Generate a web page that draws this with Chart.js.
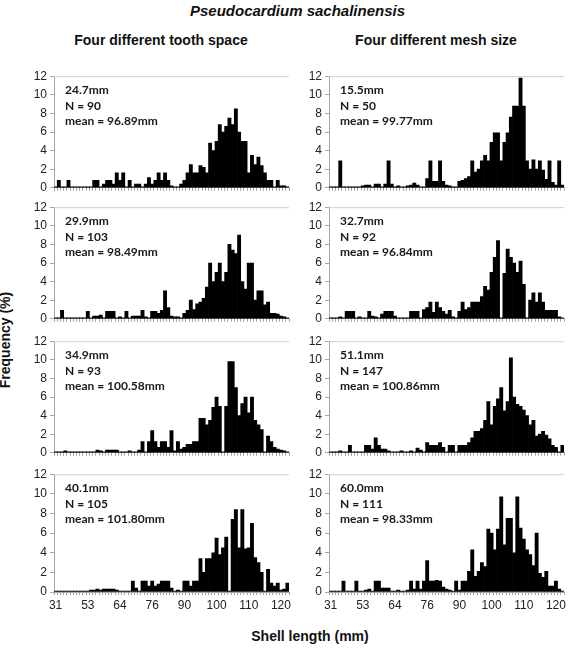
<!DOCTYPE html>
<html>
<head>
<meta charset="utf-8">
<title>Pseudocardium sachalinensis</title>
<script src="https://cdn.jsdelivr.net/npm/chart.js@4"></script>
<style>
body { margin: 0; width: 570px; height: 655px; position: relative; background: #fff; overflow: hidden; font-family: Arial, "Liberation Sans", sans-serif; }
canvas { position: absolute; }
.txt { position: absolute; white-space: nowrap; color: #111; }
#mainTitle { left: 0; width: 595px; top: 2px; text-align: center; font: italic bold 15px Arial, "Liberation Sans", sans-serif; }
.colTitle { top: 32px; width: 260px; text-align: center; font: bold 14px Arial, "Liberation Sans", sans-serif; }
#xTitle { left: 190px; width: 240px; top: 628px; text-align: center; font: bold 14px Arial, "Liberation Sans", sans-serif; }
#yTitle { left: -54px; width: 120px; top: 331px; height: 18px; line-height: 18px; text-align: center; transform: rotate(-90deg); font: bold 14px Arial, "Liberation Sans", sans-serif; }
.note { font: bold 12px Lato, "Open Sans", sans-serif; line-height: 15.5px; color: #1a1a1a; }
</style>
</head>
<body>
<div class="txt" id="mainTitle">Pseudocardium sachalinensis</div>
<div class="txt colTitle" style="left:31px">Four different tooth space</div>
<div class="txt colTitle" style="left:306px">Four different mesh size</div>
<div class="txt" id="yTitle">Frequency (%)</div>
<div class="txt" id="xTitle">Shell length (mm)</div>

<script>
// Shell length categories (only the observed lengths are on the axis)
const lengths = [31, 33, 35, 38, 40, 42, 45, 47, 49, 51,
    53, 54, 55, 56, 57, 58, 59, 60, 61, 62,
    64, 65, 66, 67, 68, 69, 70, 71, 72, 74,
    76, 77, 78, 80, 81, 82, 84, 85, 87, 88,
    90, 91, 92, 93, 94, 95, 96, 97, 98, 99,
    100, 101, 102, 103, 104, 105, 106, 107, 108, 109,
    110, 111, 112, 113, 114, 115, 116, 117, 118, 119,
    120, 121, 122];

// Frequency (%) - four tooth spaces
const tooth247 = [0.1, 0.8, 0.1, 0.1, 0.8, 0.1, 0.1, 0.1, 0.1, 0.1,
    0.1, 0.1, 0.8, 0.8, 0.1, 0.4, 0.8, 0.8, 0.4, 1.6,
    0.8, 1.6, 0.1, 0.8, 0.1, 0.4, 0.4, 0.1, 0.4, 1.1,
    0.4, 0.8, 1.6, 0.8, 1.6, 0.8, 0.2, 0.1, 0.1, 0.4,
    0.8, 1.6, 2.5, 1.6, 1.6, 2.4, 2.2, 1.6, 4.8, 4.0,
    5.0, 6.8, 6.0, 6.6, 7.5, 6.8, 8.5, 6.0, 5.0, 5.0,
    1.6, 3.5, 2.5, 3.3, 2.4, 1.6, 0.8, 0.8, 0.1, 0.8,
    0.2, 0.2, 0.1];
const tooth299 = [0.1, 0.1, 0.9, 0.1, 0.1, 0.1, 0.1, 0.1, 0.1, 0.1,
    0.8, 0.1, 0.3, 0.3, 0.4, 0.1, 0.8, 0.8, 0.8, 0.1,
    0.2, 0.1, 0.8, 0.1, 0.3, 0.3, 0.3, 0.9, 0.2, 0.1,
    0.8, 0.8, 0.6, 0.9, 3.0, 1.2, 0.3, 0.2, 0.2, 0.1,
    0.6, 0.9, 2.0, 1.0, 1.6, 1.8, 2.2, 3.4, 6.0, 4.0,
    5.0, 6.0, 4.0, 5.0, 8.0, 7.4, 7.0, 9.0, 4.0, 3.2,
    6.0, 6.0, 2.0, 3.0, 3.0, 1.5, 1.8, 0.6, 0.6, 0.5,
    0.3, 0.2, 0.1];
const tooth349 = [0.1, 0.1, 0.1, 0.2, 0.1, 0.1, 0.1, 0.1, 0.1, 0.1,
    0.1, 0.1, 0.1, 0.3, 0.2, 0.1, 0.3, 0.3, 0.3, 0.3,
    0.1, 0.1, 0.1, 0.2, 0.1, 0.1, 0.3, 1.2, 0.1, 1.2,
    2.4, 1.2, 0.6, 1.2, 1.2, 0.6, 2.4, 0.2, 1.2, 0.4,
    0.6, 0.9, 0.9, 1.2, 1.2, 3.7, 3.7, 3.0, 3.5, 4.9,
    6.0, 5.0, 0.1, 5.0, 9.8, 9.8, 7.0, 4.0, 5.3, 6.0,
    4.3, 6.0, 3.5, 3.0, 2.5, 0.1, 1.8, 1.2, 0.6, 0.4,
    0.3, 0.2, 0.1];
const tooth401 = [0.1, 0.1, 0.1, 0.1, 0.1, 0.1, 0.1, 0.1, 0.1, 0.1,
    0.1, 0.2, 0.2, 0.3, 0.2, 0.3, 0.3, 0.3, 0.3, 0.2,
    0.1, 0.1, 0.1, 0.1, 1.1, 0.4, 0.1, 1.1, 1.1, 0.6,
    1.1, 0.6, 0.8, 1.1, 1.1, 1.1, 0.4, 0.1, 0.2, 0.1,
    1.1, 1.1, 0.6, 1.1, 1.1, 3.4, 2.0, 3.4, 3.4, 4.0,
    5.5, 3.8, 4.5, 5.6, 0.1, 7.4, 8.4, 4.5, 8.4, 4.4,
    4.5, 7.0, 3.5, 3.0, 2.0, 0.1, 2.3, 0.9, 0.6, 0.9,
    0.2, 0.3, 0.9];

// Frequency (%) - four mesh sizes
const mesh155 = [0.1, 0.1, 0.1, 2.9, 0.1, 0.1, 0.1, 0.1, 0.1, 0.1,
    0.2, 0.3, 0.3, 0.1, 0.4, 0.4, 0.1, 0.4, 2.9, 0.4,
    0.1, 0.2, 0.1, 0.1, 0.2, 0.3, 0.5, 0.3, 0.1, 0.1,
    1.0, 2.9, 0.7, 0.7, 2.9, 0.7, 0.3, 0.2, 0.1, 0.1,
    0.7, 0.8, 1.0, 1.2, 2.9, 1.7, 2.0, 2.9, 3.5, 2.9,
    4.9, 5.9, 5.9, 2.9, 4.9, 5.9, 7.6, 8.8, 8.8, 11.8,
    8.8, 2.9, 2.0, 3.0, 2.0, 2.9, 1.9, 0.9, 2.9, 0.6,
    0.3, 2.9, 0.3];
const mesh327 = [0.1, 0.1, 0.1, 0.2, 0.1, 0.8, 0.8, 0.8, 0.1, 0.2,
    0.1, 0.1, 0.8, 0.3, 0.2, 0.1, 0.5, 0.8, 0.8, 0.8,
    0.3, 0.1, 0.1, 0.1, 0.1, 0.8, 0.8, 0.8, 0.1, 1.0,
    1.2, 1.8, 0.7, 1.8, 1.2, 0.8, 0.5, 0.9, 0.2, 0.1,
    0.8, 1.8, 1.0, 1.2, 1.8, 1.8, 1.8, 2.4, 3.5, 3.1,
    5.0, 6.6, 8.4, 0.1, 4.9, 7.5, 6.6, 6.0, 5.0, 6.2,
    3.7, 0.1, 2.0, 2.8, 1.8, 2.8, 1.8, 0.9, 0.9, 0.9,
    0.9, 0.2, 0.1];
const mesh511 = [0.1, 0.1, 0.1, 0.2, 0.1, 0.1, 0.8, 0.1, 0.1, 0.1,
    0.1, 0.8, 0.8, 0.4, 1.6, 0.8, 0.4, 0.4, 0.2, 0.1,
    0.1, 0.1, 0.2, 0.1, 0.1, 0.2, 0.1, 0.5, 0.3, 0.1,
    1.1, 0.8, 0.8, 0.8, 1.1, 0.6, 0.1, 0.8, 0.8, 0.1,
    0.8, 0.8, 0.8, 1.1, 1.6, 2.3, 2.3, 2.6, 3.5, 5.5,
    3.0, 5.0, 5.8, 7.0, 4.5, 5.5, 10.2, 6.0, 5.2, 5.0,
    4.6, 4.0, 3.0, 3.5, 1.8, 2.0, 2.3, 1.9, 1.5, 0.8,
    0.6, 0.1, 0.8];
const mesh600 = [0.1, 0.1, 0.1, 0.1, 1.1, 0.1, 0.1, 0.1, 1.1, 0.1,
    0.1, 0.2, 0.3, 0.1, 1.1, 1.1, 0.4, 0.4, 0.4, 0.1,
    0.1, 0.2, 0.1, 0.1, 0.2, 1.1, 0.3, 1.1, 0.3, 1.1,
    3.2, 1.1, 1.1, 1.2, 1.1, 0.5, 0.3, 0.2, 0.1, 1.1,
    0.2, 1.1, 1.1, 2.1, 4.3, 1.6, 2.1, 3.0, 2.6, 6.4,
    6.0, 4.3, 6.4, 9.7, 4.8, 7.5, 7.5, 4.0, 9.7, 6.5,
    5.4, 4.3, 3.8, 2.7, 6.0, 1.9, 1.5, 2.1, 0.6, 0.6,
    1.1, 0.3, 0.1];

// Y axis ticks
const yTicks = [0, 2, 4, 6, 8, 10, 12];

// Panel layout
const panels = [
    { data: tooth247, col: 0, row: 0, note: ["24.7mm", "N = 90", "mean = 96.89mm"] },
    { data: tooth299, col: 0, row: 1, note: ["29.9mm", "N = 103", "mean = 98.49mm"] },
    { data: tooth349, col: 0, row: 2, note: ["34.9mm", "N = 93", "mean = 100.58mm"] },
    { data: tooth401, col: 0, row: 3, note: ["40.1mm", "N = 105", "mean = 101.80mm"] },
    { data: mesh155, col: 1, row: 0, note: ["15.5mm", "N = 50", "mean = 99.77mm"] },
    { data: mesh327, col: 1, row: 1, note: ["32.7mm", "N = 92", "mean = 96.84mm"] },
    { data: mesh511, col: 1, row: 2, note: ["51.1mm", "N = 147", "mean = 100.86mm"] },
    { data: mesh600, col: 1, row: 3, note: ["60.0mm", "N = 111", "mean = 98.33mm"] }
];

const plotLeft = [54, 329];
const rowTop = [74, 205, 339, 472];
const plotW = 235, plotH = 120;
const yAxisW = 34, padTop = 8, padRight = 2;
const axisGrey = "#a6a6a6";

// thin grey line along the top of each plot area
const topBorder = {
    id: "topBorder",
    afterDraw(chart) {
        const { ctx, chartArea } = chart;
        ctx.save();
        ctx.strokeStyle = "#d0d0d0";
        ctx.lineWidth = 1;
        ctx.beginPath();
        ctx.moveTo(chartArea.left, chartArea.top + 0.5);
        ctx.lineTo(chartArea.right, chartArea.top + 0.5);
        ctx.stroke();
        ctx.restore();
    }
};

panels.forEach(p => {
    const isBottom = p.row === 3;
    const bottomH = isBottom ? 26 : 4;

    const canvas = document.createElement("canvas");
    canvas.width = yAxisW + plotW + padRight;
    canvas.height = padTop + plotH + bottomH;
    canvas.style.left = (plotLeft[p.col] - yAxisW) + "px";
    canvas.style.top = (rowTop[p.row] - padTop) + "px";
    document.body.appendChild(canvas);

    const note = document.createElement("div");
    note.className = "txt note";
    note.style.left = (plotLeft[p.col] + 11) + "px";
    note.style.top = (rowTop[p.row] + 8) + "px";
    note.innerHTML = p.note.join("<br>");
    document.body.appendChild(note);

    new Chart(canvas, {
        type: "bar",
        data: {
            labels: lengths,
            datasets: [{
                data: p.data,
                backgroundColor: "#000",
                barPercentage: 1,
                categoryPercentage: 1
            }]
        },
        options: {
            responsive: false,
            animation: false,
            devicePixelRatio: 1,
            layout: { padding: { top: padTop, right: padRight, left: 0, bottom: 0 } },
            plugins: { legend: { display: false }, tooltip: { enabled: false } },
            scales: {
                x: {
                    grid: { drawOnChartArea: false, tickLength: 3, color: axisGrey, offset: true },
                    border: { color: axisGrey },
                    ticks: {
                        display: isBottom,
                        autoSkip: false,
                        maxRotation: 0,
                        padding: 3,
                        color: "#222",
                        font: { size: 12, family: "Arial, 'Liberation Sans', sans-serif" },
                        callback: (v, i) => (i % 10 === 0 ? lengths[i] : "")
                    },
                    afterFit: s => { s.height = bottomH; }
                },
                y: {
                    min: 0,
                    max: 12,
                    afterBuildTicks: s => { s.ticks = yTicks.map(v => ({ value: v })); },
                    grid: { drawOnChartArea: false, tickLength: 4, color: axisGrey },
                    border: { color: axisGrey },
                    ticks: {
                        padding: 3,
                        color: "#222",
                        font: { size: 12, family: "Arial, 'Liberation Sans', sans-serif" }
                    },
                    afterFit: s => { s.width = yAxisW; }
                }
            }
        },
        plugins: [topBorder]
    });
});
</script>
</body>
</html>
